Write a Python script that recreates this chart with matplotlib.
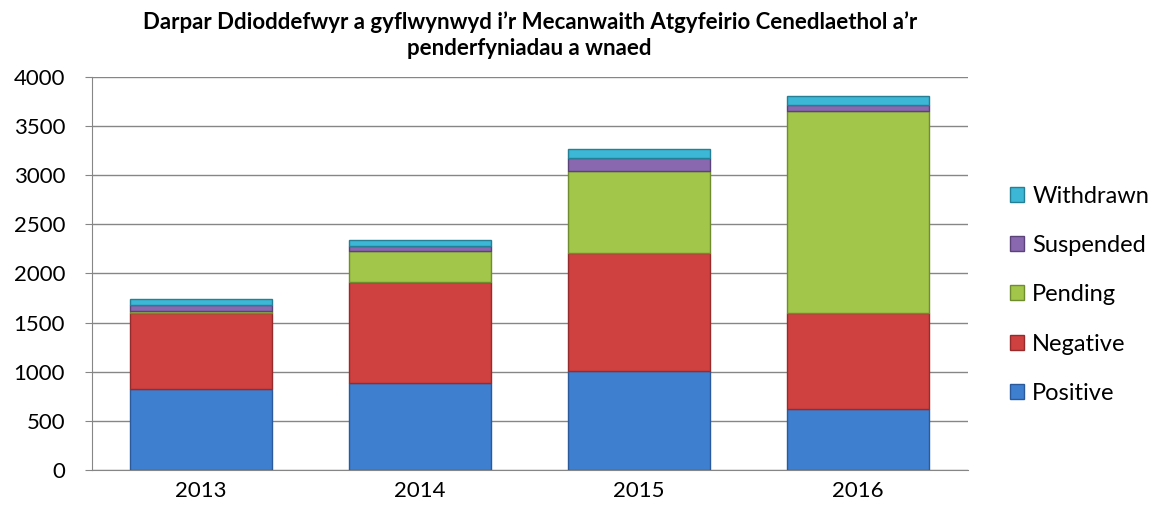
import numpy as np
import matplotlib.pyplot as plt

years = ['2013', '2014', '2015', '2016']
positive = [820, 888, 1010, 620]
negative = [775, 1024, 1200, 974]
pending = [20, 315, 834, 2057]
suspended = [60, 54, 136, 68]
withdrawn = [65, 59, 92, 85]

series = [('Positive', positive, '#3f7fd0', '#2a5a9c'),
          ('Negative', negative, '#cf4040', '#962b2b'),
          ('Pending', pending, '#a2c64a', '#6f8c2e'),
          ('Suspended', suspended, '#8a68b0', '#5b4279'),
          ('Withdrawn', withdrawn, '#3cb8d6', '#257f96')]

plt.rcParams['font.family'] = ['Lato', 'DejaVu Sans']

fig = plt.figure(figsize=(11.59, 5.17), dpi=100)
ax = fig.add_axes([0.079, 0.091, 0.756, 0.76])

x = np.arange(len(years))
bottom = np.zeros(len(years))
handles = []
for name, vals, col, edge in series:
    b = ax.bar(x, vals, 0.65, bottom=bottom, color=col, edgecolor=edge,
               linewidth=1, label=name, zorder=3)
    handles.append(b)
    bottom += np.array(vals)

ax.set_ylim(0, 4000)
ax.set_xlim(-0.5, 3.5)
ax.set_yticks(range(0, 4001, 500))
ax.set_xticks(x)
ax.set_xticklabels(years)
ax.yaxis.grid(True, color='#868686', linewidth=1, zorder=0)
for s in ['top', 'right']:
    ax.spines[s].set_visible(False)
for s in ['left', 'bottom']:
    ax.spines[s].set_color('#868686')
ax.tick_params(axis='y', labelsize=16, color='#868686', length=5, pad=14)
ax.tick_params(axis='x', labelsize=16, length=0, pad=8)

fig.text(0.457, 0.932, "Darpar Ddioddefwyr a gyflwynwyd i\u2019r Mecanwaith Atgyfeirio Cenedlaethol a\u2019r\npenderfyniadau a wnaed",
         ha='center', va='center', fontsize=16, fontweight='bold', linespacing=1.3)

fig.legend(handles[::-1], [s[0] for s in series][::-1], loc='center left',
           bbox_to_anchor=(0.853, 0.43), frameon=False, fontsize=17,
           labelspacing=1.2, handlelength=0.6, handleheight=0.6, handletextpad=0.35)

plt.savefig('out.png', dpi=100)
